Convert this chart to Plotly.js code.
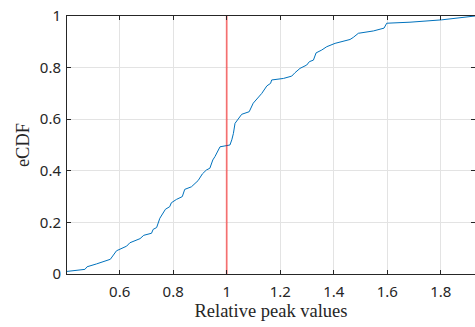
<!DOCTYPE html>
<html>
<head>
<meta charset="utf-8">
<script src="https://cdn.plot.ly/plotly-3.0.1.min.js"></script>
<style>html,body{margin:0;padding:0;background:#fff;}#chart{width:475px;height:327px;}</style>
</head>
<body>
<div id="chart"></div>
<script>
// eCDF of relative peak values
const peakValues = [0.395, 0.403, 0.47, 0.478, 0.513, 0.565, 0.588, 0.626, 0.638, 0.676, 0.69, 0.719, 0.725, 0.738, 0.75, 0.771, 0.787, 0.793, 0.812, 0.834, 0.843, 0.868, 0.893, 0.909, 0.924, 0.937, 0.948, 0.956, 0.975, 1.0, 1.012, 1.019, 1.025, 1.031, 1.05, 1.056, 1.084, 1.099, 1.131, 1.15, 1.164, 1.168, 1.212, 1.243, 1.255, 1.274, 1.299, 1.309, 1.324, 1.334, 1.355, 1.374, 1.405, 1.461, 1.473, 1.492, 1.548, 1.588, 1.598, 1.685, 1.803, 1.884, 1.928];
const ecdfValues = [0.008, 0.01, 0.018, 0.028, 0.039, 0.057, 0.09, 0.108, 0.121, 0.137, 0.15, 0.158, 0.173, 0.18, 0.216, 0.251, 0.261, 0.276, 0.289, 0.3, 0.328, 0.338, 0.362, 0.388, 0.403, 0.41, 0.442, 0.455, 0.493, 0.497, 0.5, 0.52, 0.545, 0.584, 0.61, 0.619, 0.629, 0.662, 0.7, 0.729, 0.739, 0.752, 0.758, 0.767, 0.78, 0.797, 0.81, 0.823, 0.829, 0.857, 0.868, 0.881, 0.894, 0.909, 0.917, 0.933, 0.942, 0.953, 0.972, 0.976, 0.985, 0.996, 1.0];
const refLineX = [1, 1];
const refLineY = [0, 1];
const xTickVals = [0.6, 0.8, 1, 1.2, 1.4, 1.6, 1.8];
const yTickVals = [0, 0.2, 0.4, 0.6, 0.8, 1];

const traces = [
  {x: peakValues, y: ecdfValues, type: 'scatter', mode: 'lines',
   line: {color: '#0072BD', width: 1}, hoverinfo: 'skip'},
  {x: refLineX, y: refLineY, type: 'scatter', mode: 'lines',
   line: {color: 'rgba(255,0,0,0.5)', width: 1.8}, hoverinfo: 'skip'}
];

const axisCommon = {
  showline: true, linecolor: '#262626', linewidth: 1, mirror: 'ticks',
  ticks: 'inside', ticklen: 4, tickcolor: '#262626', tickwidth: 1,
  showgrid: true, gridcolor: '#e3e3e3', gridwidth: 1, zeroline: false,
  tickfont: {family: 'Noto Sans, sans-serif', size: 15, color: '#262626'}
};

const layout = {
  width: 475, height: 327,
  margin: {l: 67, r: 0, t: 16, b: 53},
  paper_bgcolor: '#fff', plot_bgcolor: '#fff',
  showlegend: false,
  xaxis: Object.assign({}, axisCommon, {
    range: [0.403, 1.928], tickvals: xTickVals, ticklabelstandoff: 4,
    title: {text: 'Relative peak values', font: {family: 'Liberation Serif, serif', size: 18.5, color: '#262626'}, standoff: 4}
  }),
  yaxis: Object.assign({}, axisCommon, {
    range: [0, 1], tickvals: yTickVals, ticklabelstandoff: 2,
    title: {text: 'eCDF', font: {family: 'Liberation Serif, serif', size: 18.5, color: '#262626'}, standoff: 5}
  })
};

Plotly.newPlot('chart', traces, layout, {staticPlot: true, displayModeBar: false});
</script>
</body>
</html>
